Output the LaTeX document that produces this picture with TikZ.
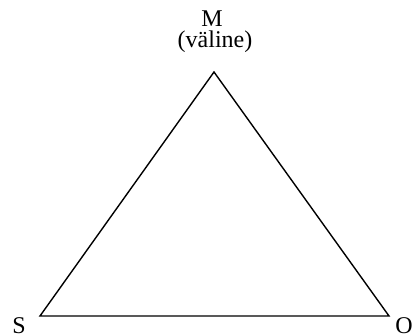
\documentclass[tikz,border=0pt]{standalone}
\usepackage{fontspec}
\setmainfont{Liberation Serif}
\begin{document}
\begin{tikzpicture}[x=1pt,y=-1pt,
  lbl/.style={inner sep=0pt,font=\fontsize{24}{28}\selectfont},
  edge/.style={line width=1.4pt,line join=miter}]
\useasboundingbox (0,0) rectangle (412,336);
\coordinate (top) at (214,72);
\coordinate (left) at (40,316);
\coordinate (right) at (389,316);
\draw[edge] (top) -- (left) -- (right) -- cycle;
\node[lbl,anchor=base] (m) at (212,26.5) {M};
\node[lbl,anchor=base] (v) at (215,47.5) {(väline)};
\node[lbl,anchor=base] (s) at (19,334) {S};
\node[lbl,anchor=base] (o) at (404,334) {O};
\end{tikzpicture}
\end{document}
